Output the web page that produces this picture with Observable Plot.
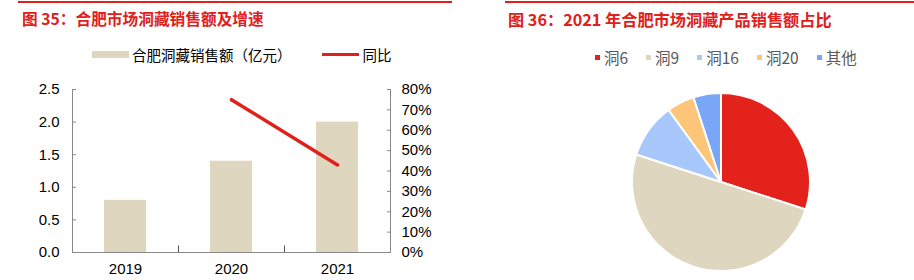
<!DOCTYPE html>
<html><head><meta charset="utf-8">
<script src="https://cdn.jsdelivr.net/npm/d3@7"></script>
<script src="https://cdn.jsdelivr.net/npm/@observablehq/plot@0.6"></script>
<style>
body{margin:0;background:#fff;width:914px;height:280px;position:relative;overflow:hidden;font-family:"Liberation Sans",Arial,"Noto Sans CJK SC",sans-serif;}
.abs{position:absolute;}
.topline{position:absolute;height:2px;background:#e0201a;top:1px;}
.title{position:absolute;top:7px;font-family:"Noto Sans CJK SC",sans-serif;font-weight:bold;font-size:15.7px;color:#e0201a;white-space:nowrap;}
.leg{position:absolute;font-size:14.5px;white-space:nowrap;display:flex;align-items:center;font-family:"Noto Sans CJK SC",sans-serif;}
</style></head>
<body>
<div class="topline" style="left:18px;width:434px"></div>
<div class="topline" style="left:505px;width:409px"></div>
<div class="title" style="left:22px">图 35：合肥市场洞藏销售额及增速</div>
<div class="title" style="left:508px;font-size:16.2px">图 36：2021 年合肥市场洞藏产品销售额占比</div>
<div class="leg" id="leg1" style="left:92px;top:44px;color:#000"></div>
<div class="leg" id="leg2" style="left:595px;top:46px;color:#595959;font-size:15.5px"></div>
<div class="abs" id="c1" style="left:0;top:78px"></div>
<div class="abs" id="c2" style="left:600px;top:82px"></div>
<script>
// data
const years = ["2019", "2020", "2021"];
const sales = [0.8, 1.4, 2.0];          // 亿元
const growth = [null, 0.75, 0.43];      // 同比
const pctTicks = [0, 10, 20, 30, 40, 50, 60, 70, 80];
const pieNames = ["洞6", "洞9", "洞16", "洞20", "其他"];
const pieShares = [30, 50, 10, 5, 5];
const pieColors = ["#e3221b", "#dfd6bf", "#a8c8fb", "#fdc578", "#79a6f6"];

const BEIGE = "#dfd6bf", RED = "#e0201a", GRAY = "#888";
const yMax = 2.5, pMax = 0.8;
const toY = p => p / pMax * yMax;

// legends
document.getElementById("leg1").innerHTML =
  `<span style="display:inline-block;width:37px;height:7px;background:${BEIGE};margin-right:3px"></span>合肥洞藏销售额（亿元）` +
  `<span style="display:inline-block;width:37px;height:3px;background:${RED};margin-left:30px;margin-right:4px"></span>同比`;
document.getElementById("leg2").innerHTML = pieNames.map((n, i) =>
  `<span style="display:inline-block;width:5px;height:5px;background:${pieColors[i]};margin-right:4px;margin-left:${i ? 18 : 0}px"></span>${n}`).join("");

const rows = years.map((y, i) => ({year: y, sales: sales[i], growth: growth[i]}));
const W = 460, H = 202, mL = 72, mR = 70, mT = 11, mB = 28;
const pIn = 0.6, pOut = 0.3;
const step = (W - mL - mR) / (years.length - pIn + 2 * pOut);

const chart1 = Plot.plot({
  width: W, height: H, marginLeft: mL, marginRight: mR, marginTop: mT, marginBottom: mB,
  style: {fontSize: "15px", fontFamily: "'Liberation Sans', Arial, sans-serif", color: "#000", background: "white"},
  x: {domain: years, paddingInner: pIn, paddingOuter: pOut, label: null},
  y: {domain: [0, yMax], label: null},
  marks: [
    Plot.barY(rows, {x: "year", y: "sales", fill: BEIGE}),
    Plot.line(rows.filter(d => d.growth != null), {x: "year", y: d => toY(d.growth), stroke: RED, strokeWidth: 3.5}),
    Plot.frame({anchor: "left", stroke: GRAY}),
    Plot.frame({anchor: "right", stroke: GRAY}),
    Plot.frame({anchor: "bottom", stroke: GRAY}),
    Plot.axisY(d3.range(0, 2.51, 0.5), {anchor: "left", tickSize: 0, tickPadding: 13, tickFormat: d3.format(".1f")}),
    Plot.axisY(d3.range(0, 2.51, 0.5), {anchor: "left", tickSize: -4, fill: "none", stroke: GRAY}),
    Plot.axisY(pctTicks, {anchor: "right", y: d => toY(d / 100), tickSize: 0, tickPadding: 11, tickFormat: (d, i) => pctTicks[i] + "%"}),
    Plot.axisY(pctTicks, {anchor: "right", y: d => toY(d / 100), tickSize: -4, fill: "none", stroke: GRAY}),
    Plot.axisX({tickSize: 0, tickPadding: 11}),
    Plot.ruleX(years.slice(0, 2), {x: d => d, dx: step / 2, y1: 0, y2: 0.1, stroke: "#555"})
  ]
});
document.getElementById("c1").appendChild(chart1);

// pie
const pieData = pieNames.map((n, i) => ({name: n, value: pieShares[i], color: pieColors[i]}));
const pieMark = (index, scales, values, dims) => {
  const g = d3.create("svg:g");
  const cx = dims.width / 2 - 4, cy = 100, r = 89;
  const arcs = d3.pie().sort(null).value(d => d.value)(pieData);
  const arc = d3.arc().innerRadius(0).outerRadius(r);
  g.attr("transform", `translate(${cx},${cy})`)
    .selectAll("path").data(arcs).join("path")
    .attr("d", arc).attr("fill", d => d.data.color)
    .attr("stroke", "white").attr("stroke-width", 2).attr("stroke-linejoin", "round");
  return g.node();
};
const chart2 = Plot.plot({
  width: 250, height: 198, margin: 0, axis: null,
  style: {background: "white"},
  marks: [pieMark]
});
document.getElementById("c2").appendChild(chart2);
</script>
</body></html>
